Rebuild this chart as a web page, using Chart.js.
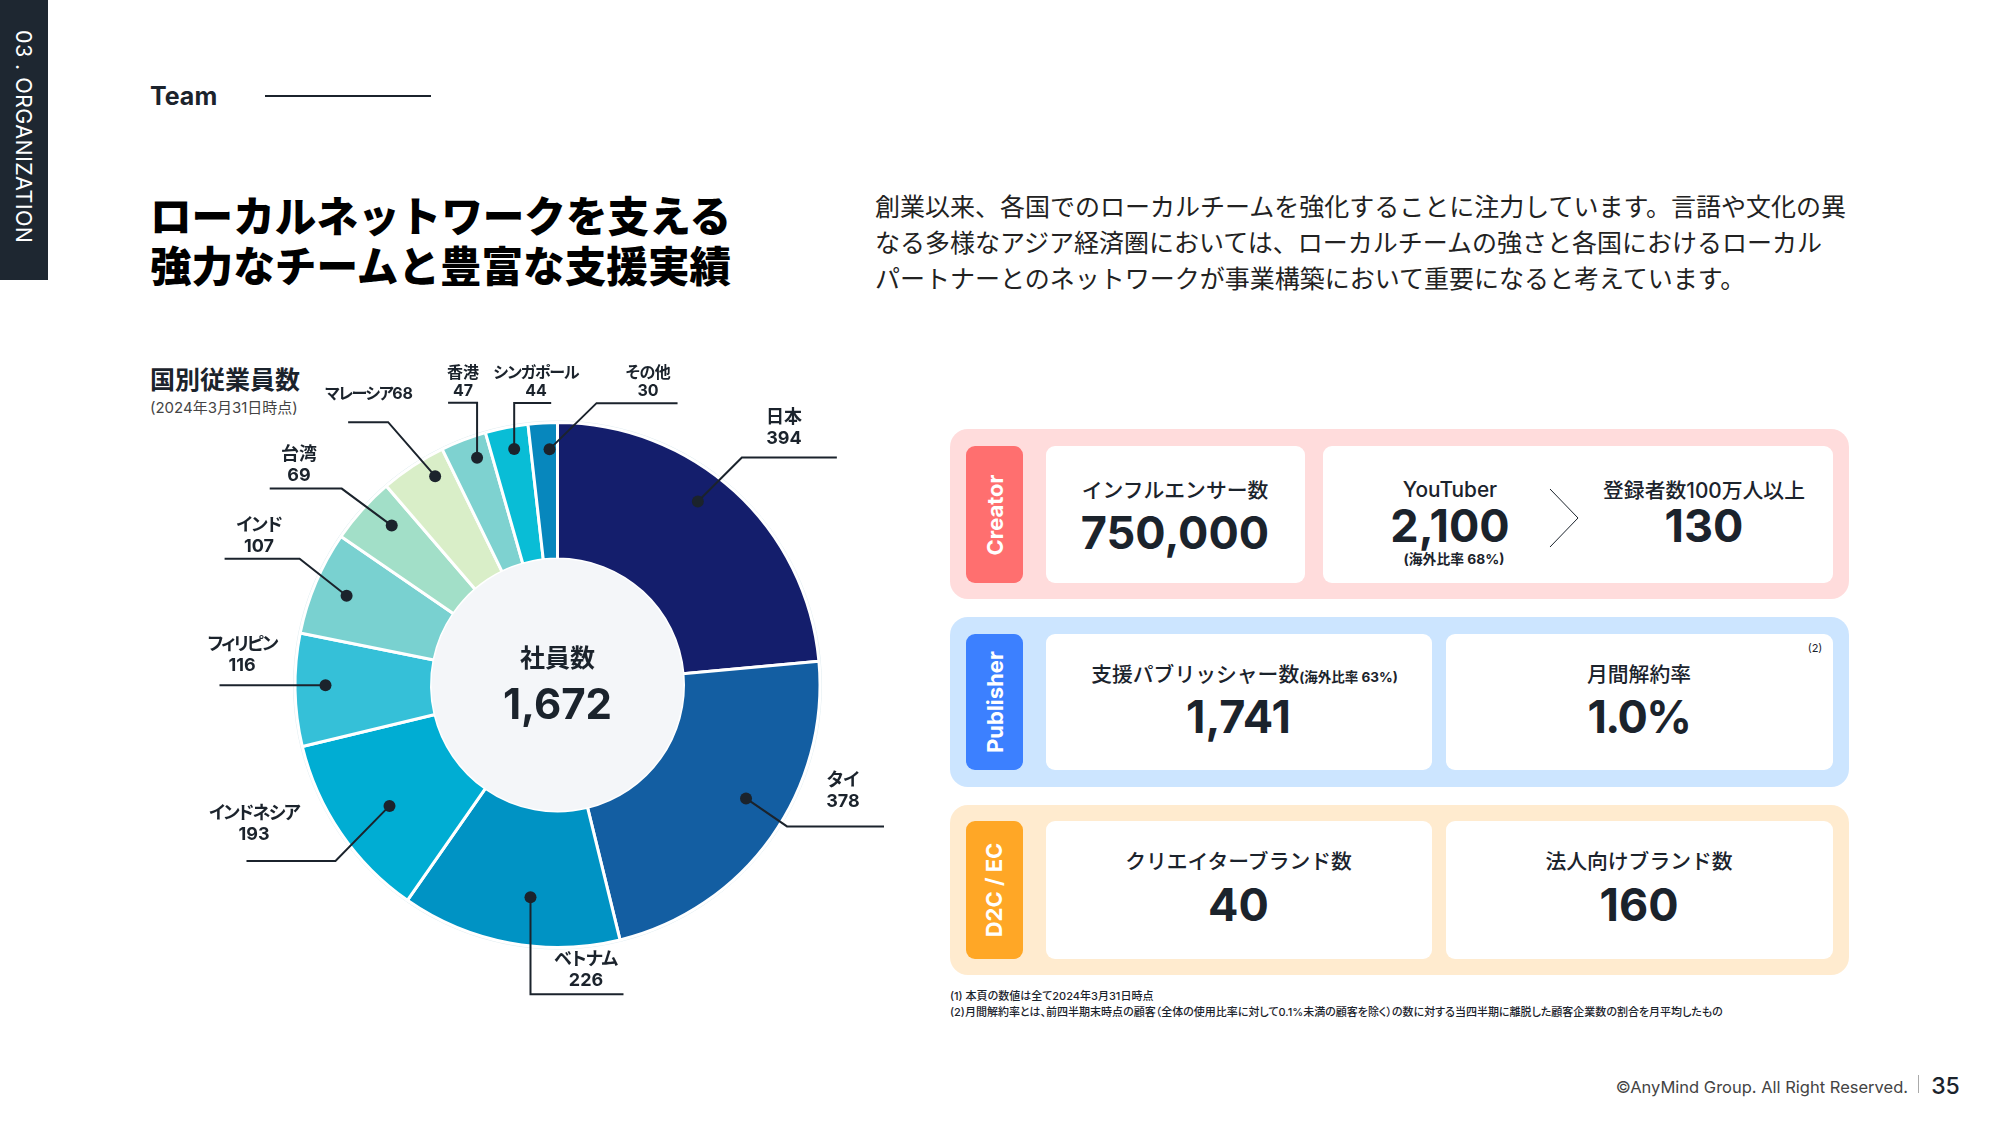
<!DOCTYPE html>
<html lang="ja">
<head>
<meta charset="utf-8">
<title>Team</title>
<script src="https://cdn.jsdelivr.net/npm/chart.js@4/dist/chart.umd.min.js"></script>
<style>
    html, body { margin: 0; background: #fff; }
    body {
        position: relative; width: 2000px; height: 1125px; overflow: hidden; color: #1b232c;
        font-family: Inter, "Noto Sans CJK JP", sans-serif;
    }
    .abs { position: absolute; white-space: nowrap; }
    .c { position: absolute; white-space: nowrap; transform: translate(-50%, -50%); text-align: center; }
    .box { position: absolute; }
    .cap { font-size: 20.8px; font-weight: 500; }
    .num { font-size: 45px; font-weight: 700; line-height: 1; }
    .tab {
        position: absolute; border-radius: 9px; color: #fff; font-weight: 700; font-size: 22px;
        display: flex; align-items: center; justify-content: center;
    }
    .tab span { transform: rotate(-90deg); white-space: nowrap; }
    .panel { position: absolute; left: 950px; width: 899px; height: 170px; border-radius: 18px; }
    .card { position: absolute; background: #fff; border-radius: 9px; }
    .lead { font-weight: 700; font-feature-settings: "palt"; }
    #chart-box { position: absolute; left: 150px; top: 350px; }
</style>
</head>
<body>
<div class="box" style="left:0;top:0;width:48px;height:280px;background:#1e2731"></div>
<div class="abs" style="left:11px;top:30px;color:#fff;font-size:21.5px;writing-mode:vertical-rl;letter-spacing:.4px">03 . ORGANIZATION</div>

<div class="abs" style="left:150px;top:81px;font-size:25px;font-weight:700">Team</div>
<div class="box" style="left:265px;top:95px;width:166px;height:2px;background:#1b232c"></div>

<div class="abs" style="left:150px;top:193px;font-size:41.6px;font-weight:900;line-height:49.7px;color:#000">ローカルネットワークを支える<br>強力なチームと豊富な支援実績</div>
<div class="abs" style="left:875px;top:188.5px;font-size:25px;line-height:36px;color:#222">創業以来、各国でのローカルチームを強化することに注力しています。言語や文化の異<br>なる多様なアジア経済圏においては、ローカルチームの強さと各国におけるローカル<br>パートナーとのネットワークが事業構築において重要になると考えています。</div>

<div class="abs" style="left:150px;top:360px;font-size:25px;font-weight:700;font-feature-settings:'palt'">国別従業員数</div>
<div class="abs" style="left:150px;top:396px;font-size:15px;color:#444;font-feature-settings:'palt'">(2024年3月31日時点)</div>

<div id="chart-box"><canvas id="chart-employees" width="780" height="700"></canvas></div>

<!-- Creator -->
<div class="panel" style="top:429px;background:#ffdcdc"></div>
<div class="tab" style="left:966px;top:446px;width:57px;height:137px;background:#ff6f6f"><span>Creator</span></div>
<div class="card" style="left:1046px;top:446px;width:259px;height:137px"></div>
<div class="card" style="left:1323px;top:446px;width:510px;height:137px"></div>
<div class="c cap" style="left:1175px;top:489px">インフルエンサー数</div>
<div class="c num" style="left:1175px;top:531.5px">750,000</div>
<div class="c cap" style="left:1450px;top:489px">YouTuber</div>
<div class="c num" style="left:1450px;top:524.5px">2,100</div>
<div class="c" style="left:1454px;top:558px;font-size:13.8px;font-weight:700;font-feature-settings:'palt'">(海外比率 68%)</div>
<svg class="box" style="left:1545px;top:484px" width="40" height="70"><polyline points="5,5 33,34 5,63" fill="none" stroke="#1b232c" stroke-width="1"/></svg>
<div class="c cap" style="left:1704px;top:489px">登録者数100万人以上</div>
<div class="c num" style="left:1704px;top:524.5px">130</div>

<!-- Publisher -->
<div class="panel" style="top:617px;background:#cce5ff"></div>
<div class="tab" style="left:966px;top:634px;width:57px;height:136px;background:#3c80ff"><span>Publisher</span></div>
<div class="card" style="left:1046px;top:634px;width:386px;height:136px"></div>
<div class="card" style="left:1446px;top:634px;width:387px;height:136px"></div>
<div class="c cap" style="left:1244.5px;top:672.5px">支援パブリッシャー数<span style="font-size:13.5px;font-weight:700;font-feature-settings:'palt'">(海外比率 63%)</span></div>
<div class="c num" style="left:1238.5px;top:716px">1,741</div>
<div class="c cap" style="left:1639px;top:672.5px">月間解約率</div>
<div class="c num" style="left:1639px;top:716px;letter-spacing:-1.5px">1.0%</div>
<div class="c" style="left:1815px;top:648px;font-size:11px">(2)</div>

<!-- D2C / EC -->
<div class="panel" style="top:805px;background:#ffebcf"></div>
<div class="tab" style="left:966px;top:821px;width:57px;height:138px;background:#ffa726"><span>D2C / EC</span></div>
<div class="card" style="left:1046px;top:821px;width:386px;height:138px"></div>
<div class="card" style="left:1446px;top:821px;width:387px;height:138px"></div>
<div class="c cap" style="left:1238.5px;top:860px">クリエイターブランド数</div>
<div class="c num" style="left:1238.5px;top:903.5px">40</div>
<div class="c cap" style="left:1639px;top:860px">法人向けブランド数</div>
<div class="c num" style="left:1639px;top:903.5px">160</div>

<div class="abs" style="left:950px;top:989px;font-size:11px;font-weight:500;line-height:15.5px;font-feature-settings:'palt'">(1) 本頁の数値は全て2024年3月31日時点<br>(2)月間解約率とは、前四半期末時点の顧客（全体の使用比率に対して0.1%未満の顧客を除く）の数に対する当四半期に離脱した顧客企業数の割合を月平均したもの</div>

<div class="abs" style="right:92px;top:1077px;font-size:16.5px;color:#444">©AnyMind Group. All Right Reserved.</div>
<div class="box" style="left:1918px;top:1075px;width:1px;height:18px;background:#aaa"></div>
<div class="c" style="left:1945.5px;top:1086px;font-size:23px;font-weight:500">35</div>

<script>
const categories = ['日本', 'タイ', 'ベトナム', 'インドネシア', 'フィリピン', 'インド', '台湾', 'マレーシア', '香港', 'シンガポール', 'その他'];
const employees = [394, 378, 226, 193, 116, 107, 69, 68, 47, 44, 30];
const sliceColors = ['#141e6c', '#135ea2', '#0093c4', '#00add3', '#35c0d8', '#79d1d0', '#a2dfc8', '#d9eec8', '#7ed2d0', '#09bdd6', '#0787bd'];
const centerTitle = '社員数';
const centerTotal = '1,672';

// where each leader starts inside its slice and how it runs from there, plus label centre on the page
const leaders = [
    { skew: -5, dist: 231, bends: [[44, -44], [139, -44]], label: [784, 427], size: 18, track: 0, leading: 21 },
    { skew: -4.5, dist: 220, bends: [[41, 28], [138, 28]], label: [843, 790], size: 18, track: 0, leading: 21 },
    { skew: -3.3, dist: 214, bends: [[0, 97], [93, 97]], label: [586, 969], size: 18, track: -0.5, leading: 21 },
    { skew: -1.4, dist: 207, bends: [[-54, 55], [-143, 55]], label: [254, 823], size: 18, track: -1.6, leading: 21 },
    { skew: 1, dist: 232, bends: [[-106, 0]], label: [242, 654], size: 18, track: -2, leading: 21 },
    { skew: 0, dist: 229, bends: [[-47, -37], [-122, -37]], label: [259, 535], size: 18, track: -1, leading: 21 },
    { skew: 2, dist: 230, bends: [[-50, -37], [-122, -37]], label: [299, 464], size: 18, track: 0, leading: 21 },
    { skew: 3, dist: 242, bends: [[-47, -54], [-87, -54]], label: [369, 393], size: 16, track: -1.5, leading: 18, oneLine: true },
    { skew: 1.5, dist: 241, bends: [[0, -55], [-29, -55]], label: [463, 381], size: 16, track: 0, leading: 18 },
    { skew: 0.8, dist: 240, bends: [[0, -46], [37, -46]], label: [536, 381], size: 16, track: -1, leading: 18 },
    { skew: 1.3, dist: 236, bends: [[47, -46], [128, -46]], label: [648, 381], size: 16, track: -0.5, leading: 18 }
];

const ink = '#1b232c';

const doughnutExtras = {
    id: 'doughnutExtras',
    beforeDatasetsDraw(chart) {
        const arc = chart.getDatasetMeta(0).data[0];
        const ctx = chart.ctx;
        ctx.save();
        ctx.beginPath();
        ctx.arc(arc.x, arc.y, arc.outerRadius + 1.5, 0, Math.PI * 2);
        ctx.strokeStyle = '#e1edf1';
        ctx.lineWidth = 1;
        ctx.stroke();
        ctx.restore();
    },
    afterDraw(chart) {
        const ctx = chart.ctx;
        const arcs = chart.getDatasetMeta(0).data;
        const cx = arcs[0].x;
        const cy = arcs[0].y;

        // centre hole
        ctx.save();
        ctx.beginPath();
        ctx.arc(cx, cy, arcs[0].innerRadius, 0, Math.PI * 2);
        ctx.fillStyle = '#f4f6f9';
        ctx.fill();
        ctx.fillStyle = ink;
        ctx.textAlign = 'center';
        ctx.textBaseline = 'middle';
        ctx.font = '700 25px Inter, "Noto Sans CJK JP"';
        ctx.fillText(centerTitle, cx, cy - 26);
        ctx.font = '700 42px Inter, "Noto Sans CJK JP"';
        ctx.fillText(centerTotal, cx, cy + 21);

        // leader lines and dots
        arcs.forEach((arc, i) => {
            const lead = leaders[i];
            const angle = (arc.startAngle + arc.endAngle) / 2 + lead.skew * Math.PI / 180;
            const x = cx + Math.cos(angle) * lead.dist;
            const y = cy + Math.sin(angle) * lead.dist;
            ctx.beginPath();
            ctx.moveTo(x, y);
            lead.bends.forEach(b => ctx.lineTo(x + b[0], y + b[1]));
            ctx.strokeStyle = ink;
            ctx.lineWidth = 2;
            ctx.stroke();
            ctx.beginPath();
            ctx.arc(x, y, 6, 0, Math.PI * 2);
            ctx.fill();
        });
        ctx.restore();
    }
};

new Chart(document.getElementById('chart-employees').getContext('2d'), {
    type: 'doughnut',
    data: {
        labels: categories,
        datasets: [{
            data: employees,
            backgroundColor: sliceColors,
            borderColor: '#fff',
            borderWidth: 3
        }]
    },
    options: {
        responsive: false,
        animation: false,
        cutout: '48%',
        layout: { padding: { left: 143.5, right: 108.5, top: 71, bottom: 101 } },
        plugins: { legend: { display: false }, tooltip: { enabled: false } }
    },
    plugins: [doughnutExtras]
});

// slice labels
categories.forEach((name, i) => {
    const lead = leaders[i];
    const div = document.createElement('div');
    div.className = 'c lead';
    div.style.left = lead.label[0] + 'px';
    div.style.top = lead.label[1] + 'px';
    div.style.fontSize = lead.size + 'px';
    div.style.lineHeight = lead.leading + 'px';
    const nameSpan = `<span style="letter-spacing:${lead.track}px">${name}</span>`;
    div.innerHTML = lead.oneLine ? `${nameSpan}${employees[i]}` : `${nameSpan}<br>${employees[i]}`;
    document.body.appendChild(div);
});
</script>
</body>
</html>
